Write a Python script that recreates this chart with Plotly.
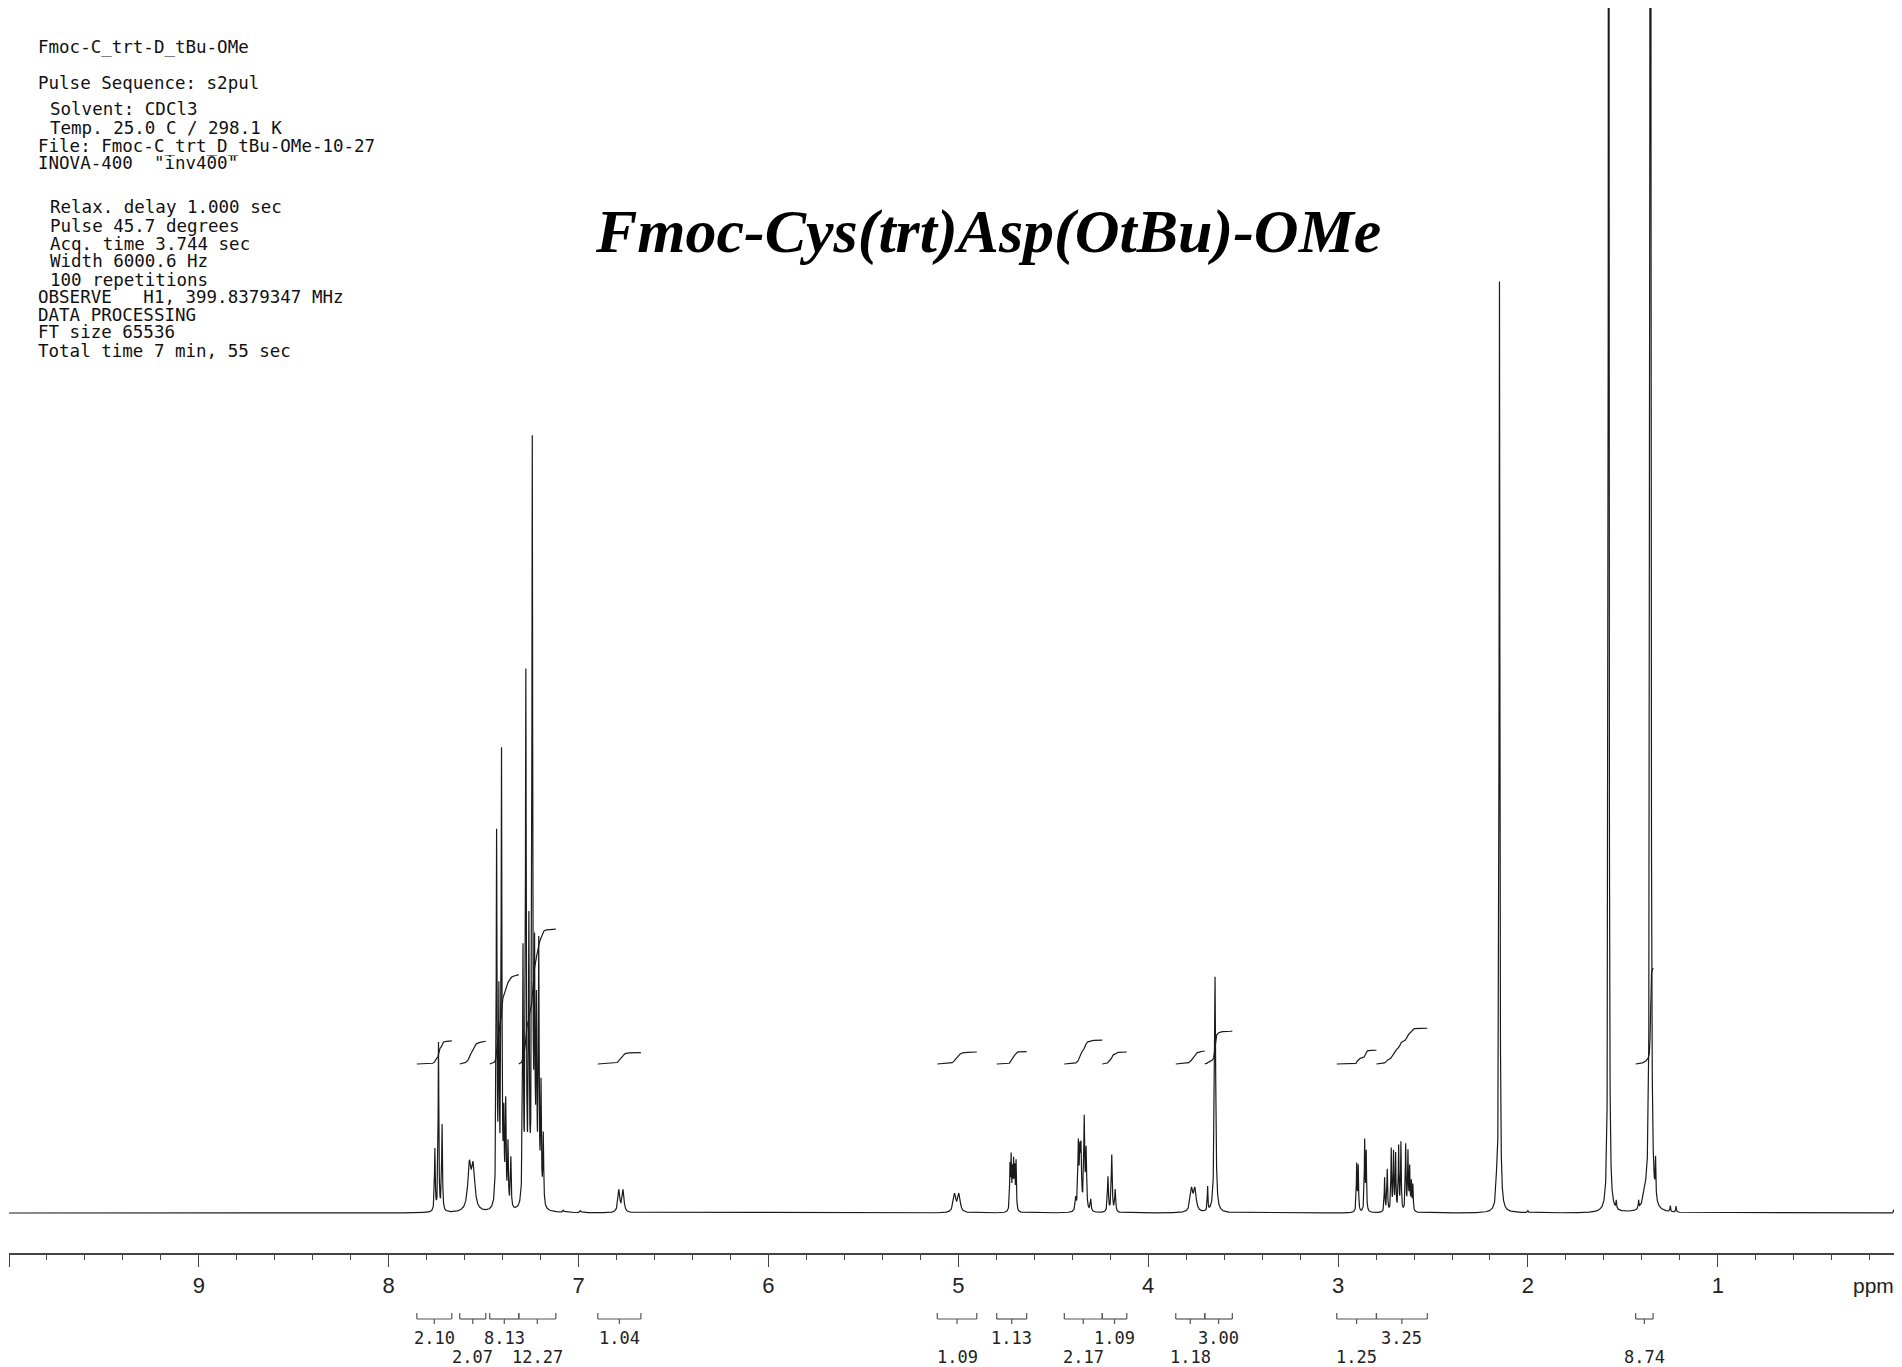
import numpy as np
import plotly.graph_objects as go

# ---------------- data ----------------
peak_ppm = [7.757, 7.738, 7.719,
            7.575, 7.555,
            7.432, 7.420, 7.406, 7.394, 7.384, 7.372, 7.357,
            7.293, 7.278, 7.262, 7.244, 7.232, 7.222, 7.210, 7.198, 7.186,
            7.08, 6.99,
            6.788, 6.766,
            5.020, 4.997,
            4.728, 4.722, 4.715, 4.709, 4.703, 4.696,
            4.382, 4.368, 4.360, 4.354, 4.337, 4.327, 4.303,
            4.212, 4.192, 4.174,
            3.772, 3.754, 3.687, 3.648,
            2.902, 2.894, 2.860, 2.852,
            2.755, 2.741, 2.720, 2.708, 2.697, 2.681, 2.669, 2.644, 2.632, 2.623, 2.614, 2.606,
            2.165, 2.150, 2.000,
            1.575, 1.535, 1.417, 1.385, 1.355, 1.328, 1.250, 1.220, 0.070]
peak_height = [62, 168, 86,
               44, 42,
               370, 200, 450, 80, 100, 62, 50,
               250, 525, 270, 755, 230, 185, 255, 115, 70,
               2, 2,
               22, 22,
               18, 18,
               43, 50, 36, 44, 38, 48,
               12, 64, 50, 56, 90, 58, 12,
               35, 57, 22,
               22, 22, 24, 236,
               47, 45, 70, 58,
               34, 42, 62, 58, 56, 64, 68, 66, 58, 42, 28, 26,
               20, 930, 2,
               3000, 8, 8, 14, 4200, 38, 6, 6, 4]
peak_hwhm = [0.0025, 0.0022, 0.0025,
             0.010, 0.010,
             0.0025, 0.0025, 0.0025, 0.0025, 0.0025, 0.0025, 0.0025,
             0.0025, 0.0025, 0.0025, 0.0025, 0.0025, 0.0025, 0.0025, 0.0025, 0.0025,
             0.004, 0.004,
             0.006, 0.006,
             0.008, 0.008,
             0.0022, 0.0022, 0.0022, 0.0022, 0.0022, 0.0022,
             0.003, 0.003, 0.003, 0.003, 0.003, 0.003, 0.003,
             0.003, 0.003, 0.003,
             0.008, 0.008, 0.002, 0.004,
             0.0022, 0.0022, 0.0022, 0.0022,
             0.0022, 0.0022, 0.0022, 0.0022, 0.0022, 0.0022, 0.0022, 0.0022, 0.0022, 0.0022, 0.0022, 0.0022,
             0.004, 0.0025, 0.003,
             0.0016, 0.002, 0.002, 0.010, 0.0018, 0.002, 0.002, 0.002, 0.002]

int_start = [7.852, 7.626, 7.468, 7.315, 6.899, 5.111, 4.798, 4.442, 4.242, 3.855, 3.702, 3.007, 2.798, 1.433]
int_end = [7.668, 7.489, 7.315, 7.120, 6.672, 4.903, 4.640, 4.242, 4.113, 3.702, 3.557, 2.798, 2.530, 1.341]
int_value = [2.10, 2.07, 8.13, 12.27, 1.04, 1.09, 1.13, 2.17, 1.09, 1.18, 3.00, 1.25, 3.25, 8.74]
int_label = ["2.10", "2.07", "8.13", "12.27", "1.04", "1.09", "1.13", "2.17", "1.09", "1.18", "3.00", "1.25", "3.25", "8.74"]

tick_vals = [10, 9, 8, 7, 6, 5, 4, 3, 2, 1]
tick_text = ["", "9", "8", "7", "6", "5", "4", "3", "2", "1"]

title_text = "Fmoc-Cys(trt)Asp(OtBu)-OMe"
param_lines = [
    ("Fmoc-C_trt-D_tBu-OMe", 0),
    ("Pulse Sequence: s2pul", 0),
    ("Solvent: CDCl3", 1),
    ("Temp. 25.0 C / 298.1 K", 1),
    ("File: Fmoc-C_trt_D_tBu-OMe-10-27", 0),
    ("INOVA-400\u00a0\u00a0\"inv400\"", 0),
    ("Relax. delay 1.000 sec", 1),
    ("Pulse 45.7 degrees", 1),
    ("Acq. time 3.744 sec", 1),
    ("Width 6000.6 Hz", 1),
    ("100 repetitions", 1),
    ("OBSERVE\u00a0\u00a0\u00a0H1, 399.8379347 MHz", 0),
    ("DATA PROCESSING", 0),
    ("FT size 65536", 0),
    ("Total time 7 min, 55 sec", 0),
]
param_y = [47, 83, 109, 128, 146, 163, 207, 226, 244, 261, 280, 297, 315, 332, 351]

# ---------------- layout geometry ----------------
OFF = 8                      # page body margin of the html page
W, H = 1902 - OFF, 1367 - OFF
ML, MR, MT, MB = 1, 0, 0, 114
PW, PH = W - ML - MR, H - MT - MB
X_RANGE = [10.0, 0.03]
Y_RANGE = [-40, PH - 40]
INT_BASE = 149
INT_SCALE = 11.0


def px(xp):
    return (xp - OFF - ML) / PW


def py(yp):
    return (H - MB - (yp - OFF)) / PH


# ---------------- spectrum ----------------
ppm = np.arange(0.0, 10.0, 0.0005)
spec = np.zeros_like(ppm)
for p, h, w in zip(peak_ppm, peak_height, peak_hwhm):
    spec += h * w ** 2 / ((ppm - p) ** 2 + w ** 2)

fig = go.Figure()
fig.add_trace(go.Scatter(x=ppm, y=spec, mode="lines",
                         line=dict(color="#1a1a1a", width=1.2),
                         hoverinfo="skip"))

# integral curves
ix, iy = [], []
for s, e, v in zip(int_start, int_end, int_value):
    m = (ppm <= s) & (ppm >= e)
    xs = ppm[m][::-1]
    ys = spec[m][::-1]
    c = np.cumsum(ys)
    c = c / c[-1]
    ix += list(xs) + [None]
    iy += list(INT_BASE + v * INT_SCALE * c) + [None]
fig.add_trace(go.Scatter(x=ix, y=iy, mode="lines", connectgaps=False,
                         line=dict(color="#1a1a1a", width=1.2),
                         hoverinfo="skip"))

shapes = []
annotations = []
# integration brackets and labels
for k, (s, e, lab) in enumerate(zip(int_start, int_end, int_label)):
    c = (s + e) / 2
    lc = dict(color="#555", width=1.2)
    shapes.append(dict(type="line", xref="x", yref="paper", x0=s, x1=e, y0=py(1319), y1=py(1319), line=lc))
    shapes.append(dict(type="line", xref="x", yref="paper", x0=s, x1=s, y0=py(1313), y1=py(1319), line=lc))
    shapes.append(dict(type="line", xref="x", yref="paper", x0=e, x1=e, y0=py(1313), y1=py(1319), line=lc))
    shapes.append(dict(type="line", xref="x", yref="paper", x0=c, x1=c, y0=py(1319), y1=py(1324), line=lc))
    row_y = 1338 if k % 2 == 0 else 1357
    annotations.append(dict(x=c, y=py(row_y), xref="x", yref="paper", text=lab, showarrow=False,
                            xanchor="center", yanchor="middle",
                            font=dict(family="DejaVu Sans Mono", size=17, color="#222")))

# parameter text block
for (t, ind), yy in zip(param_lines, param_y):
    annotations.append(dict(x=px(36 + ind * 11.5), y=py(yy), xref="paper", yref="paper", text=t,
                            showarrow=False, xanchor="left", yanchor="middle",
                            font=dict(family="DejaVu Sans Mono", size=17.5, color="#111")))

# title
annotations.append(dict(x=px(988), y=py(231), xref="paper", yref="paper", text=title_text,
                        showarrow=False, xanchor="center", yanchor="middle",
                        font=dict(family="Liberation Serif", size=62, color="#000",
                                  weight="bold", style="italic")))
# ppm unit label
annotations.append(dict(x=px(1896), y=py(1285), xref="paper", yref="paper", text="ppm",
                        showarrow=False, xanchor="right", yanchor="middle",
                        font=dict(family="Liberation Sans", size=21, color="#222")))

fig.update_layout(
    width=W, height=H,
    margin=dict(l=ML, r=MR, t=MT, b=MB),
    paper_bgcolor="white", plot_bgcolor="white",
    showlegend=False,
    shapes=shapes, annotations=annotations,
    xaxis=dict(range=X_RANGE, showgrid=False, zeroline=False,
               showline=True, linecolor="#444", linewidth=1.5,
               ticks="outside", ticklen=12, tickwidth=1.3, tickcolor="#444",
               tickmode="array", tickvals=tick_vals, ticktext=tick_text,
               tickfont=dict(family="Liberation Sans", size=22, color="#222"),
               minor=dict(dtick=0.2, tick0=0, ticks="outside", ticklen=5, tickwidth=1, tickcolor="#444",
                          showgrid=False)),
    yaxis=dict(range=Y_RANGE, visible=False, showgrid=False, zeroline=False),
)

fig.write_html("out.html")
